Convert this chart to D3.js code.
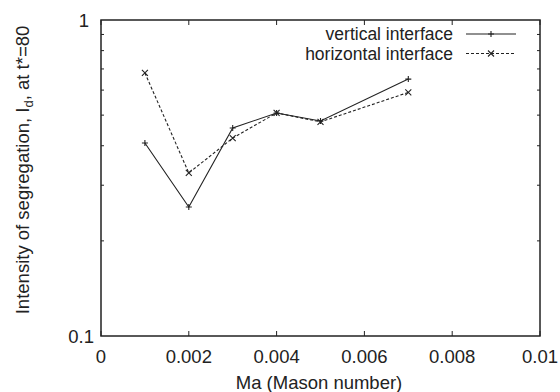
<!DOCTYPE html>
<html><head><meta charset="utf-8">
<script src="https://cdn.jsdelivr.net/npm/d3@7"></script>
<style>body{margin:0;background:#fff}svg{display:block}text{font-family:"Liberation Sans",Arial,sans-serif;fill:#222}</style>
</head><body><svg id="c" width="560" height="392"></svg>
<script>
const maValues = [0.001, 0.002, 0.003, 0.004, 0.005, 0.007];
const verticalValues = [0.408, 0.256, 0.455, 0.508, 0.479, 0.65];
const horizontalValues = [0.68, 0.328, 0.423, 0.508, 0.476, 0.59];
const xTickValues = [0, 0.002, 0.004, 0.006, 0.008, 0.01];
const xTickLabels = ["0", "0.002", "0.004", "0.006", "0.008", "0.01"];
const yMajorTicks = [0.1, 1];
const yMajorLabels = ["0.1", "1"];
const yMinorTicks = [0.2, 0.3, 0.4, 0.5, 0.6, 0.7, 0.8, 0.9];
const seriesNames = ["vertical interface", "horizontal interface"];

const svg = d3.select("#c");
const L = 101, R = 540, T = 20, B = 336;
const x = d3.scaleLinear().domain([0, 0.01]).range([L, R]);
const y = d3.scaleLog().domain([0.1, 1]).range([B, T]);
const ink = "#222";
const fs = 18.5;

// ticks
const tg = svg.append("g").attr("stroke", ink).attr("stroke-width", 1);
xTickValues.forEach(v => {
  tg.append("line").attr("x1", x(v)).attr("x2", x(v)).attr("y1", B).attr("y2", B - 5);
  tg.append("line").attr("x1", x(v)).attr("x2", x(v)).attr("y1", T).attr("y2", T + 5);
});
yMinorTicks.forEach(v => {
  tg.append("line").attr("x1", L).attr("x2", L + 3).attr("y1", y(v)).attr("y2", y(v));
  tg.append("line").attr("x1", R).attr("x2", R - 3).attr("y1", y(v)).attr("y2", y(v));
});

// frame
svg.append("rect").attr("x", L).attr("y", T).attr("width", R - L).attr("height", B - T)
  .attr("fill", "none").attr("stroke", ink).attr("stroke-width", 1.5);

// tick labels
xTickValues.forEach((v, i) => {
  svg.append("text").attr("x", x(v)).attr("y", B + 27).attr("text-anchor", "middle")
    .attr("font-size", fs).text(xTickLabels[i]);
});
yMajorTicks.forEach((v, i) => {
  svg.append("text").attr("x", L - (i === 1 ? 12 : 7)).attr("y", y(v) + 7).attr("text-anchor", "end")
    .attr("font-size", fs).text(yMajorLabels[i]);
});

// axis titles
svg.append("text").attr("x", 319).attr("y", 389).attr("text-anchor", "middle")
  .attr("font-size", fs).text("Ma (Mason number)");
const yl = svg.append("text").attr("transform", "translate(29,170) rotate(-90)")
  .attr("text-anchor", "middle").attr("font-size", fs);
yl.append("tspan").text("Intensity of segregation, I");
yl.append("tspan").attr("font-size", 13).attr("dy", 4).text("d");
yl.append("tspan").attr("dy", -4).text(", at t*=80");

// series
const line = d3.line().x(d => x(d[0])).y(d => y(d[1]));
const vData = maValues.map((m, i) => [m, verticalValues[i]]);
const hData = maValues.map((m, i) => [m, horizontalValues[i]]);
svg.append("path").datum(vData).attr("d", line).attr("fill", "none").attr("stroke", ink).attr("stroke-width", 1.1);
svg.append("path").datum(hData).attr("d", line).attr("fill", "none").attr("stroke", ink).attr("stroke-width", 1.1)
  .attr("stroke-dasharray", "3,2");

const s = 3;
function plus(g, cx, cy) {
  g.append("path").attr("d", `M${cx - s},${cy}H${cx + s}M${cx},${cy - s}V${cy + s}`)
    .attr("stroke", ink).attr("stroke-width", 1.1).attr("fill", "none");
}
function cross(g, cx, cy) {
  g.append("path").attr("d", `M${cx - s},${cy - s}L${cx + s},${cy + s}M${cx - s},${cy + s}L${cx + s},${cy - s}`)
    .attr("stroke", ink).attr("stroke-width", 1.1).attr("fill", "none");
}
vData.forEach(d => plus(svg, x(d[0]), y(d[1])));
hData.forEach(d => cross(svg, x(d[0]), y(d[1])));

// legend
const lgY = [34, 53.5];
const lfs = 17.5;
seriesNames.forEach((n, i) => {
  svg.append("text").attr("x", 453).attr("y", lgY[i] + 6).attr("text-anchor", "end")
    .attr("font-size", lfs).text(n);
  const ln = svg.append("line").attr("x1", 466).attr("x2", 516).attr("y1", lgY[i]).attr("y2", lgY[i])
    .attr("stroke", ink).attr("stroke-width", 1.1);
  if (i === 1) ln.attr("stroke-dasharray", "3,2");
  if (i === 0) plus(svg, 491, lgY[i]); else cross(svg, 491, lgY[i]);
});
</script></body></html>
